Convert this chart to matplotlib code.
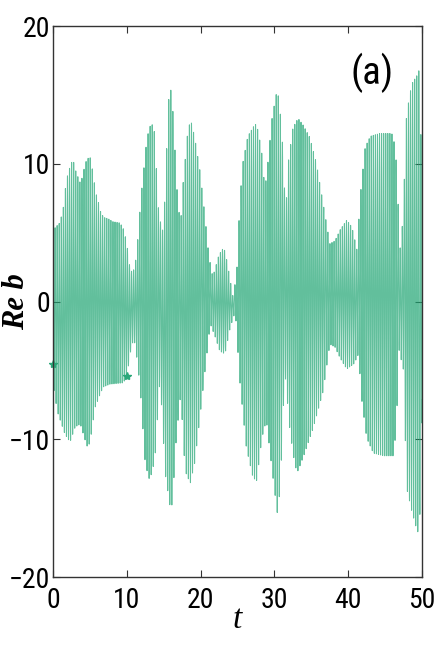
import numpy as np
import matplotlib
matplotlib.use('Agg')
from matplotlib import pyplot as plt
from matplotlib import font_manager

# envelope of Re b (time, value)
upper_t = [0, 0.9, 1.35, 1.6, 1.8, 2.2, 2.5, 2.8, 3.0, 3.4, 3.7, 3.9, 4.2, 4.5, 4.9, 5.1,
           5.3, 5.8, 6.2, 6.5, 6.9, 7.5, 8.1, 9.1, 9.6, 10.0, 10.4, 10.8, 11.2, 11.5, 11.9,
           12.3, 12.6, 13.0, 13.4, 13.8, 14.2, 14.8, 15.2, 15.6, 15.9, 16.1, 16.5, 16.9,
           17.3, 17.6, 18.3, 18.7, 19.2, 19.9, 20.6, 21.0, 21.5, 22.0, 22.2, 22.9, 23.3,
           23.8, 24.4, 24.9, 25.3, 25.7, 26.4, 27.4, 27.8, 28.3, 28.7, 29.1, 29.7, 30.4,
           30.8, 31.2, 31.5, 31.9, 32.5, 33.2, 33.9, 34.8, 35.7, 36.6, 37.5, 38.2, 38.9,
           39.8, 40.5, 41.2, 41.6, 42.3, 43.0, 44.3, 45.9, 46.4, 46.8, 47.1, 47.5, 47.9,
           48.6, 49.3, 49.6, 50.0]
upper_v = [5.2, 5.7, 6.6, 7.8, 8.8, 9.6, 10.1, 10.1, 9.6, 9.0, 8.6, 8.9, 9.6, 10.2, 10.5, 10.4,
           9.7, 7.9, 7.1, 6.4, 6.1, 6.0, 5.8, 5.7, 5.2, 4.2, 2.5, 2.0, 3.0, 4.6, 7.5,
           9.6, 11.2, 12.6, 12.9, 12.2, 7.1, 4.9, 7.8, 14.4, 15.4, 15.2, 11.2, 7.1,
           5.7, 8.4, 12.6, 13.1, 11.9, 9.5, 6.1, 3.9, 2.0, 2.2, 3.0, 3.8, 3.7,
           2.2, 0.3, 2.2, 7.1, 10.0, 12.0, 12.9, 12.4, 10.7, 8.1, 10.0, 13.4, 15.5,
           13.6, 10.7, 6.1, 10.2, 12.6, 13.3, 12.8, 11.9, 10.0, 7.1, 4.2, 4.4, 5.2,
           5.9, 5.4, 3.7, 7.5, 11.2, 12.0, 12.2, 12.2, 11.2, 6.6, 3.2, 7.3, 13.6,
           15.8, 16.4, 16.8, 9.0]

lower_t = [0, 0.6, 1.6, 2.3, 3.0, 3.7, 4.6, 5.0, 5.7, 6.4, 6.8, 7.7, 9.5, 10.0, 10.4, 10.7,
           11.1, 11.4, 11.8, 12.5, 13.1, 13.8, 14.5, 15.2, 16.0, 16.3, 16.7, 17.3, 17.9,
           18.6, 19.2, 19.9, 20.6, 21.3, 22.0, 22.6, 23.3, 24.0, 24.7, 25.3, 25.7, 26.2,
           27.1, 27.6, 28.3, 28.9, 29.7, 30.4, 30.8, 31.4, 32.1, 32.8, 33.2, 34.1, 35.3,
           36.6, 37.5, 38.2, 38.9, 39.8, 40.8, 41.4, 41.8, 42.5, 43.4, 44.8, 46.2, 46.6,
           46.8, 47.5, 47.9, 48.6, 49.4, 49.8, 50.0]
lower_v = [-6.0, -8.0, -9.6, -10.2, -9.1, -8.9, -10.5, -10.3, -7.7, -6.7, -6.2, -6.0, -5.9, -5.5, -4.0, -3.0,
           -3.0, -4.3, -6.2, -11.8, -13.0, -11.5, -5.5, -12.5, -15.4, -13.5, -9.9, -6.7, -12.3,
           -13.2, -11.7, -8.4, -5.0, -1.6, -2.6, -3.6, -3.8, -1.9, -0.7, -5.7, -7.9, -10.6,
           -12.8, -13.0, -9.9, -8.6, -12.3, -15.4, -13.5, -5.0, -9.4, -12.0, -12.3, -11.0, -9.1,
           -6.5, -3.1, -3.3, -4.1, -4.9, -4.5, -3.8, -7.0, -9.9, -11.0, -11.2, -11.2, -8.0,
           -3.3, -5.0, -13.5, -15.2, -16.8, -15.0, -8.0]

carrier_period = 0.28   # fast oscillation, roughly one stripe per 2 px

# star markers visible on the curve
star_t = [0, 10]
star_v = [-4.5, -5.4]

xticks = [0, 10, 20, 30, 40, 50]
yticks = [-20, -10, 0, 10, 20]


def build_signal(t):
    up = np.interp(t, upper_t, upper_v)
    lo = np.interp(t, lower_t, lower_v)
    mid = (up + lo) / 2
    half = (up - lo) / 2
    return mid + half * np.cos(2 * np.pi * t / carrier_period)


def pick_font(names):
    have = {f.name for f in font_manager.fontManager.ttflist}
    for n in names:
        if n in have:
            return n
    return 'DejaVu Sans'


def main():
    t = np.arange(0, 50.0001, 0.01)
    y = build_signal(t)

    narrow = pick_font(['Liberation Sans Narrow', 'Roboto Condensed', 'DejaVu Sans Condensed',
                        'Liberation Sans'])

    fig = plt.figure(figsize=(4.36, 6.54), dpi=100)
    ax = fig.add_axes([0.1216, 0.1177, 0.8464, 0.8425])
    ax.plot(t, y, color='#1fa573', lw=0.75, alpha=0.7)
    ax.plot(star_t, star_v, ls='none', marker='*', color='#2ca87a', ms=6, clip_on=False)

    ax.set_xlim(0, 50)
    ax.set_ylim(-20, 20)
    ax.set_xticks(xticks)
    ax.set_yticks(yticks)
    ax.set_xticklabels([str(v) for v in xticks], family=narrow, fontsize=20)
    ax.set_yticklabels(['\u2212%d' % -v if v < 0 else str(v) for v in yticks],
                       family=narrow, fontsize=20)
    ax.tick_params(direction='in', top=True, right=True, length=5, width=0.8,
                   color='#333333', pad=2)
    ax.tick_params(axis='x', pad=7)
    for s in ax.spines.values():
        s.set_color('#333333')
        s.set_linewidth(1.0)

    ax.set_ylabel('Re b', family=['Liberation Serif', 'DejaVu Serif'], fontsize=22,
                  fontweight='bold', fontstyle='italic')
    ax.yaxis.set_label_coords(-0.06, 0.5)
    ax.set_xlabel('t', family=['Liberation Serif', 'DejaVu Serif'], fontsize=24,
                  fontstyle='italic', labelpad=-7)
    ax.text(0.865, 0.915, '(a)', transform=ax.transAxes, ha='center', va='center',
            family=narrow, fontsize=28)

    fig.savefig('out.png', dpi=100)


if __name__ == '__main__':
    main()
